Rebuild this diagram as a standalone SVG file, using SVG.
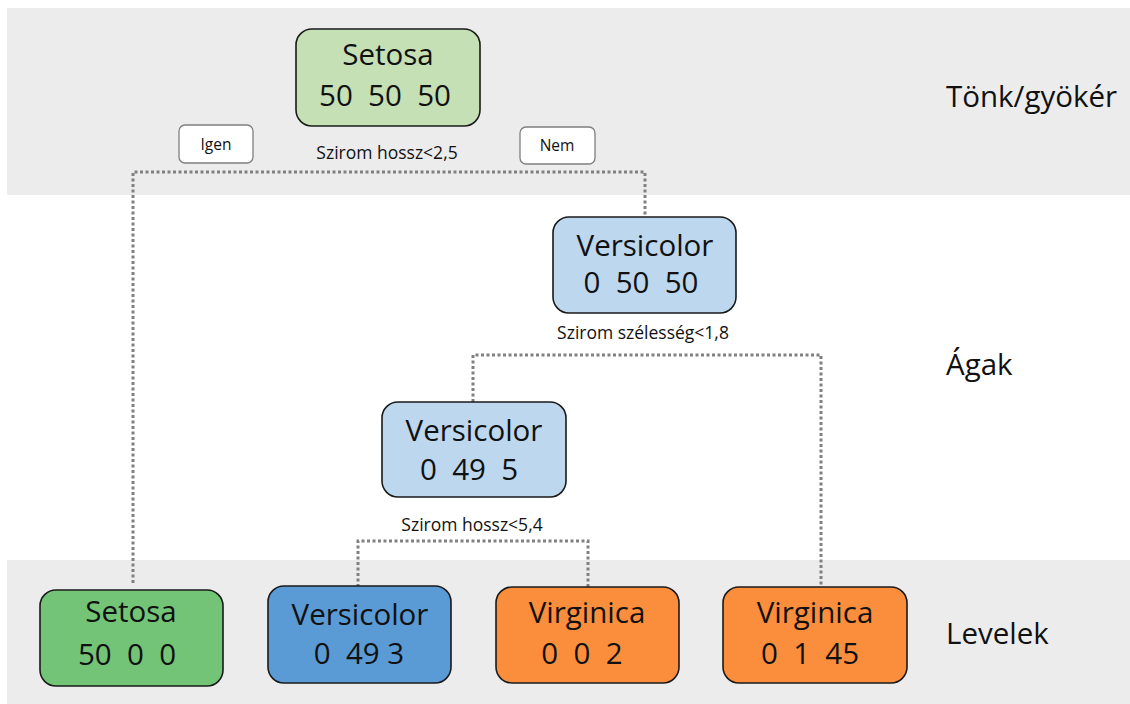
<svg xmlns="http://www.w3.org/2000/svg" width="1130" height="704" viewBox="0 0 1130 704">
  <style>
    .band { fill: #ececec; }
    .node { stroke: #1a1a1a; stroke-width: 1.6; }
    .t { font-family: "Open Sans", "Liberation Sans", sans-serif; fill: #111; text-anchor: middle; }
    .big { font-size: 29.5px; }
    .mid { font-size: 17.5px; }
    .small { font-size: 15.5px; }
    .lvl { font-family: "Open Sans", "Liberation Sans", sans-serif; fill: #111; font-size: 29.5px; }
    .edge { fill: none; stroke: #808080; stroke-width: 3; stroke-dasharray: 3 2.5; }
    .tag { fill: #fff; stroke: #7f7f7f; stroke-width: 1.3; }
  </style>

  <!-- level bands -->
  <rect class="band" x="7" y="8" width="1123" height="187"/>
  <rect class="band" x="7" y="560" width="1123" height="144"/>

  <!-- level names -->
  <text class="lvl" x="946" y="107">Tönk/gyökér</text>
  <text class="lvl" x="946" y="375">Ágak</text>
  <text class="lvl" x="946" y="644">Levelek</text>

  <!-- connectors -->
  <g id="connectors">
    <path class="edge" d="M133,583 V172 H645 V216"/>
    <path class="edge" d="M473,402 V355 H821 V588"/>
    <path class="edge" d="M358,587 V541 H588 V588"/>
  </g>

  <!-- split labels -->
  <g id="split-labels">
    <rect class="tag" x="179" y="125" width="74" height="38" rx="6"/>
    <text class="t small" x="216" y="150">Igen</text>
    <rect class="tag" x="520" y="127" width="75" height="37" rx="6"/>
    <text class="t small" x="557" y="151">Nem</text>
    <text class="t mid" x="387" y="159">Szirom hossz&lt;2,5</text>
    <text class="t mid" x="643" y="339">Szirom szélesség&lt;1,8</text>
    <text class="t mid" x="472" y="531">Szirom hossz&lt;5,4</text>
  </g>

  <g id="root">
    <rect class="node" x="296" y="29" width="184" height="97" rx="16" fill="#c5e0b4"/>
    <text class="t big" x="388" y="65">Setosa</text>
    <text class="t big" x="385" y="106" xml:space="preserve">50  50  50</text>
  </g>

  <g id="branch-1">
    <rect class="node" x="553" y="217" width="183" height="96" rx="16" fill="#bdd7ee"/>
    <text class="t big" x="645" y="256">Versicolor</text>
    <text class="t big" x="641" y="293" xml:space="preserve">0  50  50</text>
  </g>

  <g id="branch-2">
    <rect class="node" x="382" y="402" width="184" height="95" rx="16" fill="#bdd7ee"/>
    <text class="t big" x="474" y="441">Versicolor</text>
    <text class="t big" x="469" y="480" xml:space="preserve">0  49  5</text>
  </g>

  <g id="leaf-setosa">
    <rect class="node" x="40" y="590" width="183" height="96" rx="16" fill="#73c476"/>
    <text class="t big" x="131" y="622">Setosa</text>
    <text class="t big" x="127" y="665" xml:space="preserve">50  0  0</text>
  </g>

  <g id="leaf-versicolor">
    <rect class="node" x="268" y="586" width="183" height="97" rx="16" fill="#5b9bd5"/>
    <text class="t big" x="360" y="625">Versicolor</text>
    <text class="t big" x="359" y="664" xml:space="preserve">0  49 3</text>
  </g>

  <g id="leaf-virginica-1">
    <rect class="node" x="496" y="587" width="183" height="96" rx="16" fill="#fb8e3c"/>
    <text class="t big" x="587" y="623">Virginica</text>
    <text class="t big" x="582" y="664" xml:space="preserve">0  0  2</text>
  </g>

  <g id="leaf-virginica-2">
    <rect class="node" x="723" y="587" width="184" height="96" rx="16" fill="#fb8e3c"/>
    <text class="t big" x="815" y="623">Virginica</text>
    <text class="t big" x="810" y="664" xml:space="preserve">0  1  45</text>
  </g>
</svg>
